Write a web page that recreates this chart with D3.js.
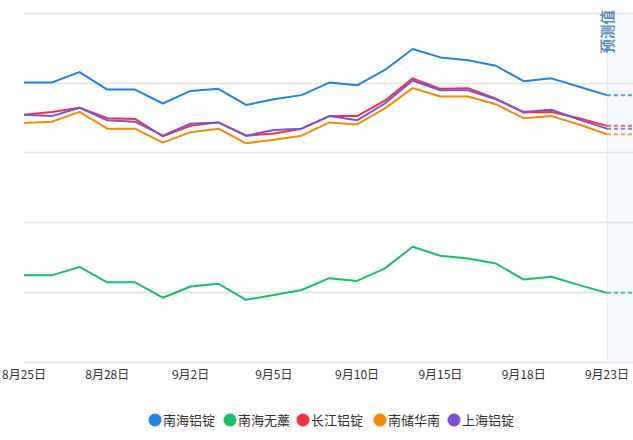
<!DOCTYPE html>
<html>
<head>
<meta charset="utf-8">
<script src="https://cdn.jsdelivr.net/npm/d3@7"></script>
<style>
  html, body { margin: 0; padding: 0; background: #fff; }
  #chart { width: 633px; height: 440px; }
  text { font-family: "Noto Sans CJK SC", "Noto Sans", sans-serif; }
</style>
</head>
<body>
<div id="chart"></div>
<script>
// dates (last one is the forecast slot)
const dates = ['8月25日','8月26日','8月27日','8月28日','8月29日','9月1日','9月2日','9月3日','9月4日','9月5日',
  '9月8日','9月9日','9月10日','9月11日','9月12日','9月15日','9月16日','9月17日','9月18日','9月19日',
  '9月22日','9月23日','9月24日'];
const tickLabels = ['8月25日','8月28日','9月2日','9月5日','9月10日','9月15日','9月18日','9月23日'];
const forecastLabel = '预测值';

const seriesNames = ['南海铝锭','南海无藁','长江铝锭','南储华南','上海铝锭'];
const seriesColors = ['#1f84e8','#18bf6b','#f5333f','#f58a07','#7b52d1'];

const nanhaiIngot = [20600,20600,20615,20590,20590,20570,20588,20591,20568,20576,20582,20600,20596,20618,20648,20636,20632,20624,20602,20606,20594,20582];
const nanhaiBar   = [20324,20324,20336,20314,20314,20292,20308,20312,20289,20296,20303,20320,20316,20334,20365,20352,20348,20341,20318,20322,20310,20299];
const changjiang  = [20554,20558,20564,20549,20548,20523,20538,20543,20524,20527,20534,20552,20552,20574,20606,20591,20592,20577,20557,20558,20549,20538];
const nanchu      = [20542,20544,20558,20534,20534,20514,20529,20534,20513,20518,20524,20543,20540,20563,20592,20580,20580,20569,20549,20552,20540,20526];
const shanghai    = [20554,20552,20564,20546,20544,20524,20541,20543,20524,20532,20534,20552,20546,20570,20603,20589,20589,20576,20558,20561,20547,20534];

const allSeries = [nanhaiIngot, nanhaiBar, changjiang, nanchu, shanghai];

const width = 633, height = 440;
const svg = d3.select('#chart').append('svg')
  .attr('width', width)
  .attr('height', height);

const x = d3.scalePoint().domain(dates).range([24, 634.7]);
const y = d3.scaleLinear().domain([20200, 20700]).range([362, 12.7]);

// forecast band
const lastDate = dates[dates.length - 2];
svg.append('rect')
  .attr('x', x(lastDate))
  .attr('y', y(20700))
  .attr('width', width - x(lastDate))
  .attr('height', y(20200) - y(20700))
  .attr('fill', '#f6f9fd');

// grid lines
svg.append('g')
  .selectAll('line')
  .data(y.ticks(5))
  .join('line')
    .attr('x1', 24)
    .attr('x2', width)
    .attr('y1', d => Math.round(y(d)) + 0.5)
    .attr('y2', d => Math.round(y(d)) + 0.5)
    .attr('stroke', '#e3e3e3')
    .attr('stroke-width', 1.5);

svg.append('line')
  .attr('x1', x(lastDate) + 0.5)
  .attr('x2', x(lastDate) + 0.5)
  .attr('y1', y(20700))
  .attr('y2', y(20200))
  .attr('stroke', '#e6ecf3');

// forecast label
svg.append('text')
  .attr('transform', `translate(${x(lastDate) + 6},10) rotate(-90)`)
  .attr('text-anchor', 'end')
  .attr('font-size', 14.5)
  .attr('font-weight', 'bold')
  .attr('fill', '#5b8dc2')
  .text(forecastLabel);

// x labels
svg.append('g')
  .selectAll('text')
  .data(tickLabels)
  .join('text')
    .attr('x', d => x(d))
    .attr('y', 379)
    .attr('text-anchor', 'middle')
    .attr('font-size', 12)
    .attr('fill', '#333')
    .text(d => d);

const line = d3.line()
  .x((d, i) => x(dates[i]))
  .y(d => y(d));

// forecast dashes (flat from the last real value)
allSeries.forEach((vals, k) => {
  const last = vals[vals.length - 1];
  svg.append('line')
    .attr('x1', x(lastDate))
    .attr('x2', x(dates[dates.length - 1]))
    .attr('y1', y(last))
    .attr('y2', y(last))
    .attr('stroke', seriesColors[k])
    .attr('stroke-opacity', 0.75)
    .attr('stroke-width', 2)
    .attr('stroke-dasharray', '4,3');
});

// series lines
svg.append('g')
  .selectAll('path')
  .data(allSeries)
  .join('path')
    .attr('d', d => line(d))
    .attr('fill', 'none')
    .attr('stroke', (d, i) => seriesColors[i])
    .attr('stroke-width', 2)
    .attr('stroke-linejoin', 'round');

// legend
const legendX = [155, 230, 303, 380, 454];
const legend = svg.append('g')
  .selectAll('g')
  .data(seriesNames)
  .join('g')
    .attr('transform', (d, i) => `translate(${legendX[i]},420)`);

legend.append('circle')
  .attr('r', 6.5)
  .attr('fill', (d, i) => seriesColors[i]);

legend.append('text')
  .attr('x', 8)
  .attr('y', 4.5)
  .attr('font-size', 13)
  .attr('fill', '#333')
  .text(d => d);
</script>
</body>
</html>
